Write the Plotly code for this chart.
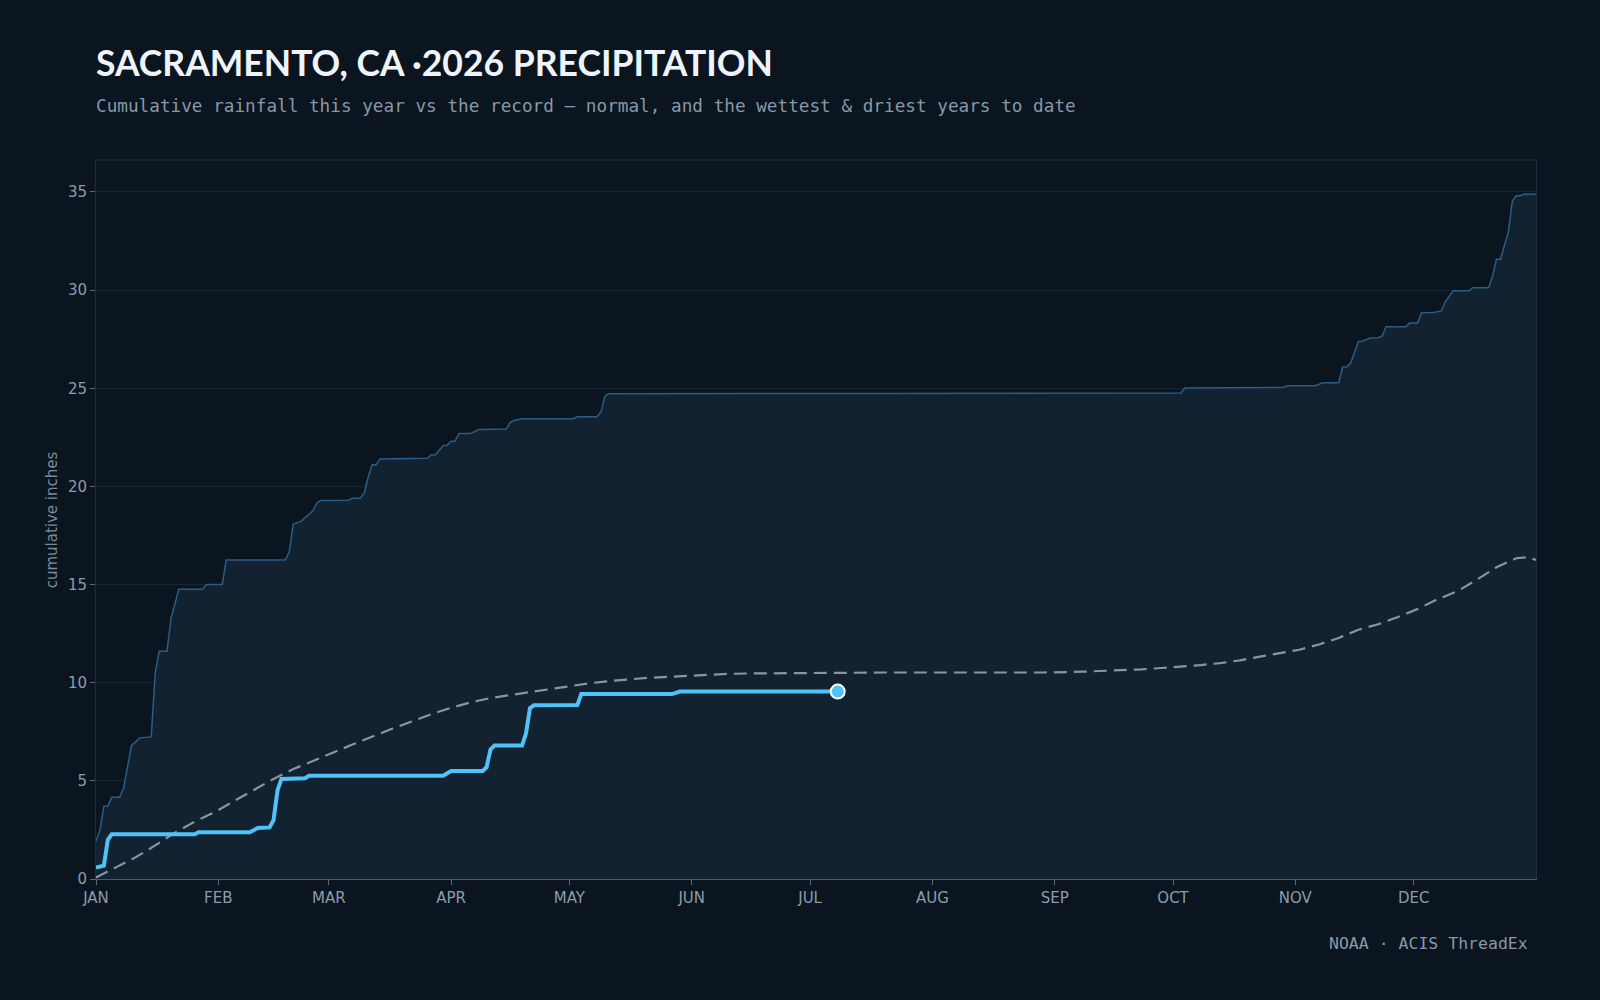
import plotly.graph_objects as go

# ---- data (day of year, cumulative inches) ----
month_ticks = [1, 32, 60, 91, 121, 152, 182, 213, 244, 274, 305, 335]
month_labels = ["JAN", "FEB", "MAR", "APR", "MAY", "JUN", "JUL", "AUG", "SEP", "OCT", "NOV", "DEC"]

wettest_doy = [1, 2, 3, 4, 5, 7, 8, 9, 10, 11, 12, 15, 16, 17, 19, 20, 21, 22, 28, 29, 33, 34,
               49, 50, 51, 53, 55, 56, 57, 58, 65, 66, 68, 69, 70, 71, 72, 73, 85, 86, 87, 89, 90,
               91, 92, 93, 96, 98, 105, 106, 107, 109, 122, 123, 128, 129, 130, 131, 200, 276,
               277, 287, 289, 302, 303, 310, 312, 316, 317, 318, 319, 321, 322, 324, 326, 327,
               328, 333, 334, 336, 337, 340, 342, 343, 345, 349, 350, 354, 355, 356, 357, 358,
               359, 360, 361, 362, 363, 366]
wettest_in = [1.92, 2.5, 3.7, 3.72, 4.16, 4.16, 4.64, 5.77, 6.8, 6.97, 7.19, 7.24, 10.46, 11.6,
              11.6, 13.27, 14.06, 14.76, 14.76, 15.0, 15.0, 16.25, 16.25, 16.68, 18.08, 18.22,
              18.58, 18.77, 19.16, 19.28, 19.3, 19.4, 19.4, 19.66, 20.48, 21.1, 21.1, 21.4, 21.43,
              21.6, 21.6, 22.09, 22.1, 22.3, 22.3, 22.7, 22.7, 22.9, 22.92, 23.26, 23.36, 23.45,
              23.45, 23.55, 23.55, 23.8, 24.6, 24.72, 24.74, 24.76, 25.01, 25.02, 25.05, 25.05,
              25.13, 25.13, 25.28, 25.28, 26.08, 26.08, 26.27, 27.39, 27.4, 27.56, 27.58, 27.66,
              28.14, 28.14, 28.32, 28.33, 28.85, 28.86, 28.94, 29.4, 29.97, 29.97, 30.12, 30.12,
              30.72, 31.58, 31.58, 32.3, 32.97, 34.54, 34.81, 34.81, 34.88, 34.9]

driest_doy = [1, 366]
driest_in = [0.0, 0.0]

normal_doy = [1, 6, 11, 16, 21, 26, 31, 36, 41, 46, 51, 56, 61, 66, 71, 76, 81, 86, 91, 96, 101,
              106, 111, 116, 121, 126, 131, 136, 141, 146, 151, 156, 161, 166, 171, 181, 191, 201,
              211, 221, 231, 241, 251, 256, 261, 266, 271, 276, 281, 286, 291, 296, 301, 306, 311,
              316, 321, 326, 331, 336, 341, 346, 351, 356, 361, 364, 366]
normal_in = [0.08, 0.58, 1.1, 1.71, 2.36, 2.92, 3.4, 3.97, 4.53, 5.1, 5.6, 6.0, 6.43, 6.85, 7.27,
             7.65, 8.02, 8.4, 8.72, 9.0, 9.22, 9.37, 9.52, 9.66, 9.8, 9.97, 10.08, 10.17, 10.25,
             10.3, 10.36, 10.41, 10.45, 10.47, 10.48, 10.5, 10.51, 10.52, 10.52, 10.52, 10.52,
             10.52, 10.56, 10.6, 10.63, 10.68, 10.75, 10.82, 10.9, 11.0, 11.14, 11.33, 11.5,
             11.68, 11.95, 12.28, 12.7, 12.98, 13.35, 13.75, 14.25, 14.65, 15.25, 15.88, 16.34,
             16.4, 16.25]

this_year_doy = [1, 3, 4, 5, 26, 27, 40, 41, 42, 45, 46, 47, 48, 54, 55, 89, 90, 91, 99, 100,
                 101, 102, 109, 110, 111, 112, 123, 124, 147, 149, 189]
this_year_in = [0.58, 0.68, 2.0, 2.28, 2.28, 2.38, 2.38, 2.48, 2.6, 2.63, 3.0, 4.5, 5.1, 5.13,
                5.26, 5.26, 5.4, 5.5, 5.5, 5.7, 6.6, 6.8, 6.8, 7.42, 8.7, 8.85, 8.86, 9.42, 9.42,
                9.55, 9.55]

# ---- figure ----
BG = "#0b151f"
fig = go.Figure()

fig.add_trace(go.Scatter(x=driest_doy, y=driest_in, mode="lines",
                         line=dict(width=0, color="rgba(0,0,0,0)"), hoverinfo="skip"))
fig.add_trace(go.Scatter(x=wettest_doy, y=wettest_in, mode="lines", fill="tonexty",
                         fillcolor="#122230", line=dict(color="#2a5d88", width=1.5),
                         name="wettest"))
fig.add_trace(go.Scatter(x=normal_doy, y=normal_in, mode="lines",
                         line=dict(color="#8796a3", width=2.2, dash="13px,7px"),
                         name="normal"))
fig.add_trace(go.Scatter(x=this_year_doy, y=this_year_in, mode="lines",
                         line=dict(color="#4fc3f7", width=4), name="2026"))
fig.add_trace(go.Scatter(x=[this_year_doy[-1]], y=[this_year_in[-1]], mode="markers",
                         marker=dict(size=14, color="#4fc3f7", line=dict(color="white", width=2)),
                         name="today"))

fig.update_layout(
    width=1600, height=1000,
    paper_bgcolor=BG, plot_bgcolor=BG,
    margin=dict(l=96, r=64, t=160, b=121),
    showlegend=False,
    font=dict(family="DejaVu Sans", color="#8b9bab", size=15),
    xaxis=dict(range=[1, 366], tickvals=month_ticks, ticktext=month_labels,
               showgrid=False, zeroline=False, showline=True, linecolor="#4d5a63",
               linewidth=1, ticks="outside", ticklen=5, tickcolor="#5d6b76",
               tickfont=dict(size=15, color="#8b9bab")),
    yaxis=dict(range=[0, 36.63], tickvals=[0, 5, 10, 15, 20, 25, 30, 35],
               showgrid=True, gridcolor="#152532", gridwidth=1, zeroline=False,
               showline=True, linecolor="#1b3042", linewidth=1, mirror=True,
               ticks="outside", ticklen=5, tickcolor="#5d6b76",
               tickfont=dict(size=15, color="#8b9bab")),
    shapes=[dict(type="line", xref="paper", yref="paper", x0=0, x1=1, y0=1, y1=1,
                 line=dict(color="#1b3042", width=1))],
    annotations=[
        dict(text="<b>SACRAMENTO, CA ·2026 PRECIPITATION</b>", xref="paper", yref="paper",
             x=-0.0014, y=1.1356, xanchor="left", yanchor="middle", showarrow=False,
             font=dict(family="Lato", size=35.5, color="#eef4fa")),
        dict(text="Cumulative rainfall this year vs the record — normal, and the wettest & driest years to date",
             xref="paper", yref="paper", x=-0.0014, y=1.075, xanchor="left", yanchor="middle",
             showarrow=False, font=dict(family="DejaVu Sans Mono", size=17.7, color="#8898a8")),
        dict(text="NOAA · ACIS ThreadEx", xref="paper", yref="paper", x=0.9958, y=-0.0904,
             xanchor="right", yanchor="middle", showarrow=False,
             font=dict(family="DejaVu Sans Mono", size=16.5, color="#8898a8")),
        dict(text="cumulative inches", xref="paper", yref="paper", x=-0.0305, y=0.499,
             xanchor="center", yanchor="middle", textangle=-90, showarrow=False,
             font=dict(family="DejaVu Sans", size=15, color="#7a8a9a")),
    ],
)

fig.write_html("out.html")
